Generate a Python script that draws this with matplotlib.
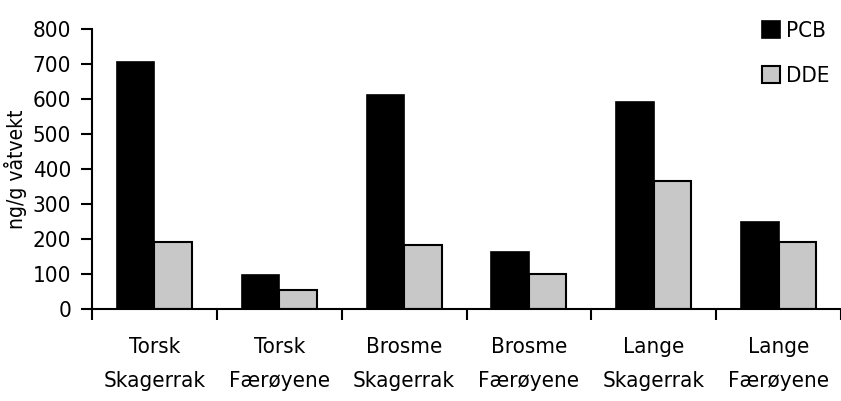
import matplotlib
matplotlib.use("Agg")
import matplotlib.pyplot as plt
import numpy as np
from matplotlib import font_manager

categories = ["Torsk\nSkagerrak", "Torsk\nFærøyene", "Brosme\nSkagerrak",
              "Brosme\nFærøyene", "Lange\nSkagerrak", "Lange\nFærøyene"]
pcb = [705, 97, 611, 163, 591, 249]
dde = [191, 54, 183, 100, 366, 191]
yticks = [0, 100, 200, 300, 400, 500, 600, 700, 800]

names = {f.name for f in font_manager.fontManager.ttflist}
fam = "Liberation Sans Narrow" if "Liberation Sans Narrow" in names else "DejaVu Sans"
plt.rcParams['font.family'] = [fam, 'DejaVu Sans']
stretch = 'normal' if fam == "Liberation Sans Narrow" else 'condensed'

fig = plt.figure(figsize=(8.41, 4.01), dpi=100)
ax = fig.add_axes([92/841, 1-309/401, 1-92/841, 280/401])

x = np.arange(len(categories))
w = 0.3
ax.bar(x - w/2, pcb, w, color='black', edgecolor='black', linewidth=1.2, label='PCB')
ax.bar(x + w/2, dde, w, color='#c8c8c8', edgecolor='black', linewidth=1.5, label='DDE')

ax.set_xlim(-0.5, len(categories) - 0.5)
ax.set_ylim(0, 800)
ax.set_yticks(yticks)
ax.set_yticklabels([str(v) for v in yticks], fontsize=16, fontstretch=stretch)
ax.set_xticks(np.arange(len(categories) + 1) - 0.5, minor=False)
ax.set_xticklabels([])
ax.set_xticks(x, minor=True)
ax.set_xticklabels(categories, minor=True, fontsize=16, linespacing=1.9, fontstretch=stretch)
ax.tick_params(axis='x', which='minor', length=0, pad=20)
ax.tick_params(axis='x', which='major', direction='out', length=8, width=1.5)
ax.tick_params(axis='y', direction='out', length=8, width=1.5, pad=7)
for s in ['top', 'right']:
    ax.spines[s].set_visible(False)
for s in ['left', 'bottom']:
    ax.spines[s].set_linewidth(1.5)
ax.set_ylabel("ng/g våtvekt", fontsize=15, fontstretch=stretch, labelpad=4)

leg = ax.legend(loc='upper right', bbox_to_anchor=(1.012, 1.1), frameon=False,
                handlelength=0.8, handleheight=0.8, handletextpad=0.3,
                labelspacing=1.1, prop={'size': 16, 'stretch': stretch})

fig.savefig("out.png", dpi=100)
